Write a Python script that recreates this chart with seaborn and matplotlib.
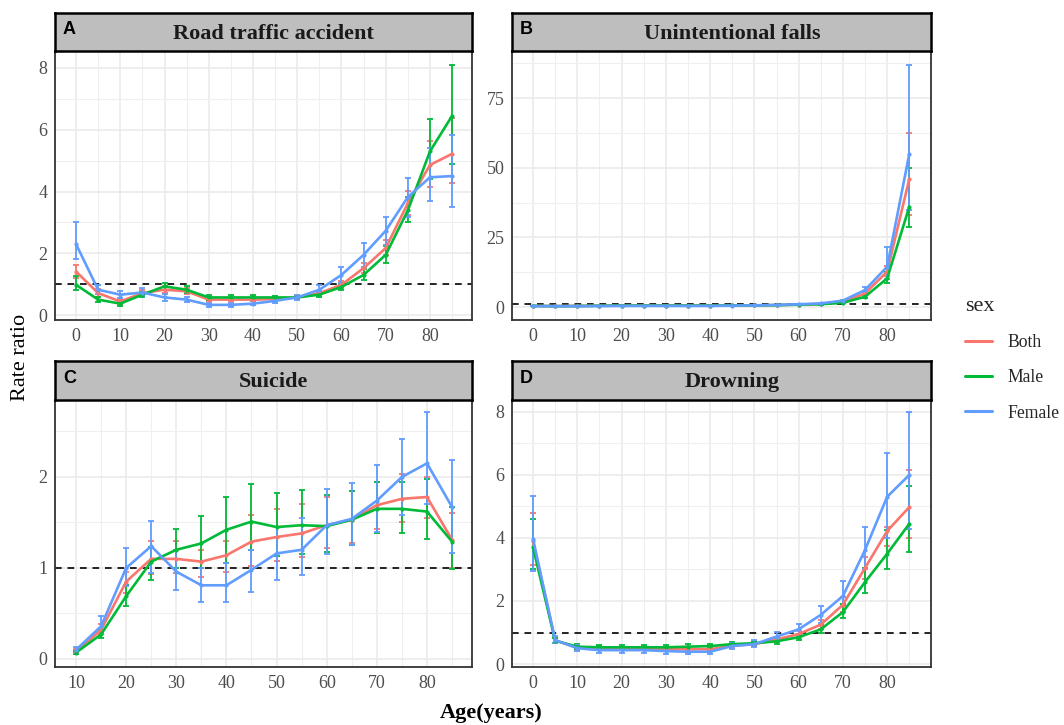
import numpy as np
import pandas as pd
import matplotlib
matplotlib.use("Agg")
import matplotlib.pyplot as plt
import seaborn as sns
from matplotlib.ticker import FixedLocator
from matplotlib.lines import Line2D

# ---------------- data ----------------
ages = [0, 5, 10, 15, 20, 25, 30, 35, 40, 45, 50, 55, 60, 65, 70, 75, 80, 85]
ages_suicide = [10, 15, 20, 25, 30, 35, 40, 45, 50, 55, 60, 65, 70, 75, 80, 85]
sexes = ["Both", "Male", "Female"]
panel_titles = ["Road traffic accident", "Unintentional falls", "Suicide", "Drowning"]
panel_letters = ["A", "B", "C", "D"]

road_both = [1.41, 0.71, 0.44, 0.71, 0.82, 0.77, 0.50, 0.50, 0.50, 0.52, 0.57, 0.71, 0.98, 1.52, 2.17, 3.62, 4.86, 5.22]
road_both_lo = [1.20, 0.60, 0.36, 0.62, 0.72, 0.68, 0.44, 0.44, 0.45, 0.47, 0.52, 0.64, 0.88, 1.35, 1.95, 3.25, 4.14, 4.29]
road_both_hi = [1.63, 0.83, 0.53, 0.80, 0.93, 0.87, 0.57, 0.56, 0.56, 0.58, 0.63, 0.79, 1.09, 1.70, 2.42, 4.02, 5.62, 6.37]
road_male = [0.98, 0.50, 0.37, 0.66, 0.93, 0.82, 0.57, 0.57, 0.57, 0.57, 0.57, 0.66, 0.91, 1.30, 1.95, 3.39, 5.30, 6.45]
road_male_lo = [0.82, 0.42, 0.30, 0.57, 0.82, 0.72, 0.49, 0.50, 0.50, 0.51, 0.51, 0.58, 0.81, 1.13, 1.70, 3.00, 4.40, 4.90]
road_male_hi = [1.25, 0.60, 0.45, 0.76, 1.05, 0.93, 0.65, 0.65, 0.64, 0.63, 0.63, 0.74, 1.02, 1.48, 2.25, 3.82, 6.34, 8.10]
road_female = [2.30, 0.82, 0.66, 0.73, 0.57, 0.50, 0.33, 0.33, 0.37, 0.46, 0.57, 0.82, 1.30, 1.95, 2.73, 3.82, 4.46, 4.50]
road_female_lo = [1.80, 0.68, 0.55, 0.62, 0.47, 0.41, 0.27, 0.27, 0.31, 0.39, 0.49, 0.70, 1.03, 1.57, 2.27, 3.19, 3.68, 3.50]
road_female_hi = [3.00, 0.98, 0.78, 0.86, 0.68, 0.60, 0.40, 0.40, 0.44, 0.54, 0.66, 0.96, 1.57, 2.33, 3.17, 4.43, 5.40, 5.83]

falls_both = [0.40, 0.35, 0.40, 0.45, 0.50, 0.50, 0.50, 0.50, 0.50, 0.55, 0.60, 0.70, 0.90, 1.10, 1.80, 4.90, 12.7, 46.0]
falls_both_lo = [0.30, 0.27, 0.33, 0.38, 0.44, 0.44, 0.44, 0.45, 0.45, 0.50, 0.55, 0.64, 0.83, 1.00, 1.60, 4.30, 11.0, 33.0]
falls_both_hi = [0.52, 0.45, 0.48, 0.53, 0.57, 0.57, 0.56, 0.56, 0.56, 0.61, 0.66, 0.77, 0.98, 1.22, 2.05, 5.60, 14.6, 62.5]
falls_male = [0.40, 0.30, 0.35, 0.45, 0.50, 0.50, 0.50, 0.50, 0.50, 0.55, 0.60, 0.65, 0.85, 1.00, 1.50, 3.70, 10.3, 36.0]
falls_male_lo = [0.30, 0.22, 0.28, 0.38, 0.44, 0.44, 0.44, 0.44, 0.44, 0.49, 0.54, 0.58, 0.77, 0.90, 1.30, 3.20, 8.5, 28.6]
falls_male_hi = [0.53, 0.40, 0.44, 0.53, 0.57, 0.57, 0.57, 0.57, 0.57, 0.62, 0.67, 0.73, 0.94, 1.12, 1.75, 4.30, 12.5, 49.8]
falls_female = [0.30, 0.30, 0.30, 0.35, 0.40, 0.40, 0.40, 0.40, 0.40, 0.50, 0.60, 0.75, 1.00, 1.30, 2.30, 6.10, 14.5, 55.0]
falls_female_lo = [0.20, 0.20, 0.22, 0.27, 0.32, 0.33, 0.33, 0.33, 0.34, 0.43, 0.53, 0.66, 0.90, 1.15, 2.00, 5.20, 10.0, 35.0]
falls_female_hi = [0.45, 0.45, 0.41, 0.45, 0.50, 0.49, 0.49, 0.49, 0.48, 0.58, 0.68, 0.85, 1.12, 1.48, 2.65, 7.20, 21.7, 86.8]

sui_both = [0.08, 0.32, 0.85, 1.10, 1.10, 1.07, 1.14, 1.29, 1.34, 1.38, 1.47, 1.53, 1.69, 1.76, 1.78, 1.31]
sui_both_lo = [0.06, 0.27, 0.72, 0.93, 0.95, 0.90, 0.96, 1.02, 1.08, 1.12, 1.22, 1.28, 1.43, 1.50, 1.55, 1.00]
sui_both_hi = [0.11, 0.38, 0.96, 1.30, 1.30, 1.20, 1.30, 1.58, 1.65, 1.70, 1.78, 1.85, 1.95, 2.03, 2.00, 1.60]
sui_male = [0.07, 0.27, 0.69, 1.07, 1.20, 1.27, 1.42, 1.51, 1.45, 1.47, 1.46, 1.53, 1.65, 1.65, 1.62, 1.29]
sui_male_lo = [0.05, 0.23, 0.58, 0.87, 1.00, 1.00, 1.05, 1.20, 1.13, 1.15, 1.18, 1.25, 1.38, 1.38, 1.32, 0.99]
sui_male_hi = [0.09, 0.32, 0.81, 1.23, 1.43, 1.57, 1.78, 1.92, 1.82, 1.86, 1.80, 1.85, 1.95, 1.95, 1.98, 1.67]
sui_female = [0.10, 0.36, 1.00, 1.24, 0.96, 0.81, 0.81, 0.98, 1.16, 1.20, 1.47, 1.54, 1.74, 2.00, 2.15, 1.67]
sui_female_lo = [0.07, 0.30, 0.80, 0.95, 0.76, 0.63, 0.63, 0.74, 0.87, 0.92, 1.15, 1.25, 1.40, 1.58, 1.70, 1.17]
sui_female_hi = [0.13, 0.47, 1.22, 1.52, 1.20, 1.00, 1.05, 1.20, 1.45, 1.55, 1.87, 1.93, 2.13, 2.42, 2.71, 2.19]

drown_both = [3.90, 0.75, 0.52, 0.50, 0.49, 0.49, 0.48, 0.47, 0.47, 0.58, 0.63, 0.78, 0.95, 1.25, 1.88, 3.05, 4.22, 4.98]
drown_both_lo = [3.15, 0.68, 0.46, 0.44, 0.43, 0.43, 0.42, 0.41, 0.41, 0.52, 0.57, 0.70, 0.85, 1.10, 1.65, 2.70, 3.75, 4.00]
drown_both_hi = [4.80, 0.83, 0.58, 0.56, 0.55, 0.55, 0.54, 0.54, 0.54, 0.65, 0.70, 0.87, 1.06, 1.40, 2.12, 3.40, 4.35, 6.15]
drown_male = [3.70, 0.74, 0.55, 0.53, 0.53, 0.53, 0.53, 0.55, 0.57, 0.63, 0.66, 0.72, 0.85, 1.10, 1.65, 2.60, 3.50, 4.45]
drown_male_lo = [3.00, 0.67, 0.49, 0.47, 0.47, 0.47, 0.47, 0.48, 0.50, 0.56, 0.59, 0.64, 0.75, 0.98, 1.45, 2.25, 3.00, 3.55]
drown_male_hi = [4.60, 0.82, 0.62, 0.60, 0.60, 0.60, 0.60, 0.62, 0.65, 0.71, 0.74, 0.81, 0.96, 1.25, 1.90, 3.05, 4.25, 5.65]
drown_female = [3.97, 0.76, 0.50, 0.44, 0.44, 0.44, 0.41, 0.39, 0.39, 0.57, 0.63, 0.87, 1.10, 1.56, 2.16, 3.62, 5.31, 6.00]
drown_female_lo = [2.95, 0.66, 0.42, 0.35, 0.35, 0.36, 0.33, 0.31, 0.31, 0.48, 0.53, 0.73, 0.90, 1.30, 1.85, 3.00, 4.00, 4.30]
drown_female_hi = [5.32, 0.88, 0.60, 0.55, 0.55, 0.55, 0.50, 0.49, 0.49, 0.68, 0.75, 1.03, 1.28, 1.85, 2.63, 4.35, 6.70, 8.00]

# ---------------- styling ----------------
palette = {"Both": "#F8766D", "Male": "#00BA38", "Female": "#619CFF"}
sns.set_theme(style="white")
plt.rcParams["font.family"] = ["Liberation Serif", "DejaVu Serif"]

W, H = 1064, 725
fig = plt.figure(figsize=(W / 100, H / 100), dpi=100)
fig.patch.set_facecolor("white")


def box(x0, y0, x1, y1):
    return [x0 / W, 1 - y1 / H, (x1 - x0) / W, (y1 - y0) / H]


def build_df(x, series):
    rows = []
    for sex, (v, lo, hi) in zip(sexes, series):
        for a, vv, l, h in zip(x, v, lo, hi):
            rows.append({"age": a, "rr": vv, "lo": l, "hi": h, "sex": sex})
    return pd.DataFrame(rows)


panels = [
    dict(x=ages, s=[(road_both, road_both_lo, road_both_hi), (road_male, road_male_lo, road_male_hi),
                    (road_female, road_female_lo, road_female_hi)],
         pos=(55, 51, 472, 320), strip=(55, 13, 472, 51),
         xlim=(-4.75, 89.5), xt=[0, 10, 20, 30, 40, 50, 60, 70, 80], xm=[5, 15, 25, 35, 45, 55, 65, 75, 85],
         ylim=(-0.16, 8.55), yt=[0, 2, 4, 6, 8], ym=[1, 3, 5, 7]),
    dict(x=ages, s=[(falls_both, falls_both_lo, falls_both_hi), (falls_male, falls_male_lo, falls_male_hi),
                    (falls_female, falls_female_lo, falls_female_hi)],
         pos=(512, 51, 931, 320), strip=(512, 13, 931, 51),
         xlim=(-4.75, 89.9), xt=[0, 10, 20, 30, 40, 50, 60, 70, 80], xm=[5, 15, 25, 35, 45, 55, 65, 75, 85],
         ylim=(-4.66, 91.9), yt=[0, 25, 50, 75], ym=[12.5, 37.5, 62.5, 87.5]),
    dict(x=ages_suicide, s=[(sui_both, sui_both_lo, sui_both_hi), (sui_male, sui_male_lo, sui_male_hi),
                            (sui_female, sui_female_lo, sui_female_hi)],
         pos=(55, 400, 472, 667), strip=(55, 361, 472, 400),
         xlim=(5.81, 88.98), xt=[10, 20, 30, 40, 50, 60, 70, 80], xm=[15, 25, 35, 45, 55, 65, 75, 85],
         ylim=(-0.088, 2.846), yt=[0, 1, 2], ym=[0.5, 1.5, 2.5]),
    dict(x=ages, s=[(drown_both, drown_both_lo, drown_both_hi), (drown_male, drown_male_lo, drown_male_hi),
                    (drown_female, drown_female_lo, drown_female_hi)],
         pos=(512, 400, 931, 667), strip=(512, 361, 931, 400),
         xlim=(-4.75, 89.9), xt=[0, 10, 20, 30, 40, 50, 60, 70, 80], xm=[5, 15, 25, 35, 45, 55, 65, 75, 85],
         ylim=(-0.095, 8.38), yt=[0, 2, 4, 6, 8], ym=[1, 3, 5, 7]),
]

for i, p in enumerate(panels):
    ax = fig.add_axes(box(*p["pos"]))
    ax.set_facecolor("white")
    ax.set_xlim(*p["xlim"])
    ax.set_ylim(*p["ylim"])
    ax.xaxis.set_major_locator(FixedLocator(p["xt"]))
    ax.xaxis.set_minor_locator(FixedLocator(p["xm"]))
    ax.yaxis.set_major_locator(FixedLocator(p["yt"]))
    ax.yaxis.set_minor_locator(FixedLocator(p["ym"]))
    ax.set_xticklabels([str(v) for v in p["xt"]])
    ax.set_yticklabels([str(v) for v in p["yt"]])
    ax.grid(which="major", color="#EBEBEB", linewidth=1.2)
    ax.grid(which="minor", color="#EFEFEF", linewidth=0.8)
    ax.set_axisbelow(True)
    ax.tick_params(which="major", length=3.5, width=0.8, color="#333333",
                   labelcolor="#4D4D4D", labelsize=13, pad=2)
    ax.tick_params(which="minor", length=0)
    for sp in ax.spines.values():
        sp.set_color("#333333")
        sp.set_linewidth(1.3)

    ax.axhline(1, color="black", linestyle=(0, (4, 3.5)), linewidth=1.2, zorder=1)

    df = build_df(p["x"], p["s"])
    for sex in sexes:
        d = df[df["sex"] == sex]
        ax.errorbar(d["age"], d["rr"], yerr=[d["rr"] - d["lo"], d["hi"] - d["rr"]],
                    fmt="none", ecolor=palette[sex], elinewidth=1.3, capsize=2.2,
                    capthick=1.3, zorder=2)
    sns.lineplot(data=df, x="age", y="rr", hue="sex", hue_order=sexes, palette=palette,
                 linewidth=1.9, marker="o", markersize=3, markeredgewidth=0,
                 legend=False, ax=ax, zorder=3)
    ax.set_xlabel("")
    ax.set_ylabel("")

    # strip
    sax = fig.add_axes(box(*p["strip"]))
    sax.set_facecolor("#BEBEBE")
    sax.set_xticks([])
    sax.set_yticks([])
    for sp in sax.spines.values():
        sp.set_color("black")
        sp.set_linewidth(1.8)
    sax.text(0.525, 0.45, panel_titles[i], ha="center", va="center", fontsize=16,
             fontweight="bold", color="#1A1A1A", transform=sax.transAxes)
    sax.text(0.019, 0.56, panel_letters[i], ha="left", va="center", fontsize=13,
             fontweight="bold", family=["Liberation Sans", "DejaVu Sans"],
             color="black", transform=sax.transAxes)

# axis titles
fig.text(21 / W, 1 - 357 / H, "Rate ratio", rotation=90, ha="center", va="center",
         fontsize=16, color="black")
fig.text(491 / W, 1 - 713 / H, "Age(years)", ha="center", va="center",
         fontsize=16, fontweight="bold", color="black")

# legend
handles = [Line2D([], [], color=palette[s], linewidth=2.2) for s in sexes]
leg = fig.legend(handles, sexes, title="sex", loc="upper left",
                 bbox_to_anchor=(958 / W, 1 - 290 / H), frameon=False,
                 fontsize=12.7, title_fontsize=16, handlelength=1.55,
                 handletextpad=0.85, labelspacing=1.03, borderaxespad=0)
leg._legend_box.align = "left"

fig.savefig("out.png", dpi=100, facecolor="white")
